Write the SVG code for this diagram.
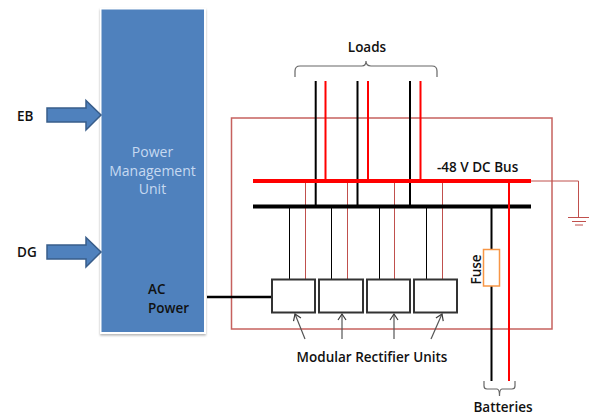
<svg xmlns="http://www.w3.org/2000/svg" width="589" height="416" viewBox="0 0 589 416">
<defs>
<marker id="open" markerWidth="10" markerHeight="10" refX="8" refY="5" orient="auto" markerUnits="userSpaceOnUse"><path d="M2 1 L8 5 L2 9" fill="none" stroke="#3a3a3a" stroke-width="1.2"/></marker>
<filter id="sh" x="-10%" y="-10%" width="120%" height="120%"><feDropShadow dx="0" dy="1.5" stdDeviation="1" flood-color="#000" flood-opacity="0.3"/></filter>
</defs>
<style>
text{font-family:"Open Sans","Noto Sans","Liberation Sans",sans-serif;font-size:13.5px;fill:#111;font-weight:600}
.blk{stroke:#000;fill:none}
.red{stroke:#f00;fill:none}
.tr{stroke:#c0504d;fill:none}
.mod{fill:#fff;stroke:#333;stroke-width:2}
.brace{fill:none;stroke:#666;stroke-width:1.2}
.ar{fill:#4f81bd;stroke:#385d8a;stroke-width:1.5}
.ptr{stroke:#555;stroke-width:1.2;fill:none;marker-end:url(#open)}
.lt{fill:#c6d9f1;font-size:14px;font-weight:400}
</style>
<rect width="589" height="416" fill="#fff"/>
<g id="connectors">
<rect x="231.5" y="118" width="320.5" height="211" fill="none" stroke="#c0504d" stroke-width="1.5" opacity="0.9"/>
<path class="blk" stroke-width="2" d="M315.7 81V206M357.500 81V206M410 81V206"/>
<path class="red" stroke-width="2" d="M325.500 81V181M368 81V181M420.500 81V181"/>
<path class="blk" stroke-width="1" d="M289.500 206V279M331.500 206V279M379.500 206V279M426.500 206V279"/>
<path class="tr" stroke-width="1" d="M305.500 181V279M347.500 181V279M394.500 181V279M442.500 181V279"/>
<path class="tr" stroke-width="1" d="M531 181H578.500V217M568 217.500H589M572 221.500H586M575 225H583"/>
<path class="red" stroke-width="4" d="M253 181H531"/>
<path class="blk" stroke-width="4" d="M253 206.500H531"/>
<path class="blk" stroke-width="2" d="M491.500 206V249M491.500 286V381"/>
<path class="red" stroke-width="2" d="M509 181V381"/>
<path class="blk" stroke-width="2.500" d="M207 297H272"/>
<path class="ptr" d="M305 339L295 314"/>
<path class="ptr" stroke-width="2" d="M342 339V314"/>
<path class="ptr" d="M394 339V314"/>
<path class="ptr" d="M431 339L442 314"/>
</g>
<g id="pmu">
<rect x="100" y="8" width="106" height="326" fill="#fff" filter="url(#sh)"/>
<rect x="101.500" y="9.500" width="102.500" height="322.500" fill="#4f81bd"/>
<text x="152.500" y="157" text-anchor="middle" class="lt">Power</text>
<text x="152.500" y="176" text-anchor="middle" class="lt">Management</text>
<text x="152.500" y="194" text-anchor="middle" class="lt">Unit</text>
<text x="148" y="294">AC</text>
<text x="148" y="313">Power</text>
</g>
<g id="eb"><path class="ar" d="M47 108H86V100.500L101 115L86 130V122H47Z"/><text x="17" y="121">EB</text></g>
<g id="dg"><path class="ar" d="M47 245H86V237.500L101 252L86 267V259H47Z"/><text x="17" y="257">DG</text></g>
<g id="m1"><rect class="mod" x="272" y="279.500" width="43" height="33"/></g>
<g id="m2"><rect class="mod" x="319" y="279.500" width="44" height="33"/></g>
<g id="m3"><rect class="mod" x="367" y="279.500" width="43" height="33"/></g>
<g id="m4"><rect class="mod" x="414" y="279.500" width="43" height="33"/></g>
<g id="fuse"><rect x="483.500" y="249.500" width="16" height="36.500" fill="#fff" stroke="#f79646" stroke-width="1.500"/>
<text transform="translate(481 269.500) rotate(-90)" text-anchor="middle">Fuse</text></g>
<g id="loads"><path class="brace" d="M295 77V71Q295 66 300 66H362Q366 66 366 61Q366 66 371 66H432Q437 66 437 71V77"/>
<text x="367" y="52" text-anchor="middle">Loads</text></g>
<g id="bus-label"><text x="437" y="172">-48 V DC Bus</text></g>
<g id="mru-label"><text x="372" y="362" text-anchor="middle">Modular Rectifier Units</text></g>
<g id="batteries"><path class="brace" d="M484 381V386Q484 389 487 389H497Q499.500 389 499.500 396Q499.500 389 502 389H512Q515 389 515 386V381"/>
<text x="503" y="412" text-anchor="middle">Batteries</text></g>
</svg>
